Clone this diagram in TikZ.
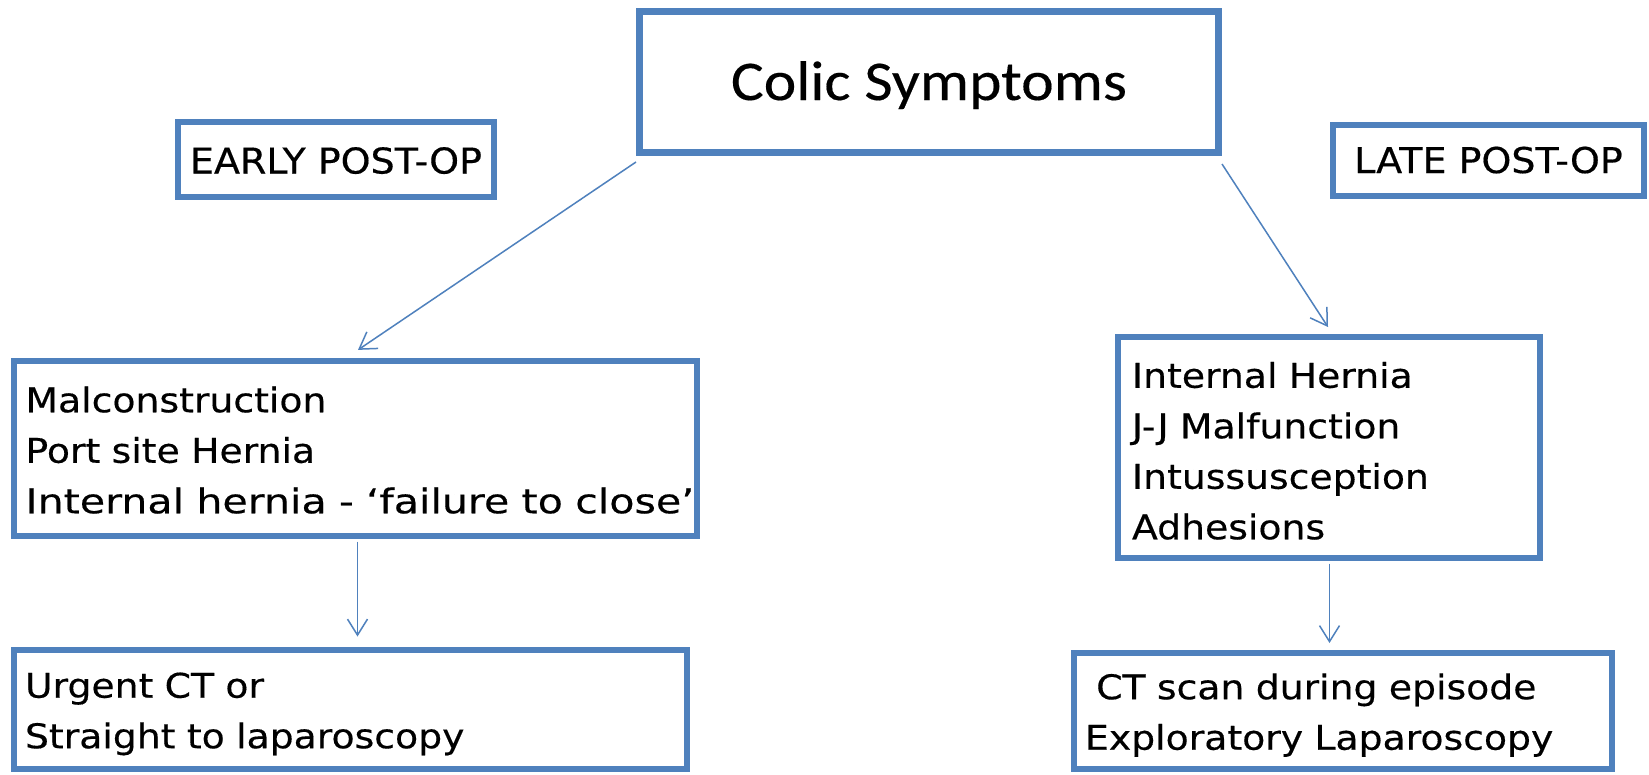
\documentclass[tikz,border=0pt]{standalone}
\usepackage{fontspec}
\usepackage{graphicx}
\usetikzlibrary{arrows.meta}
\setmainfont{DejaVu Sans}
\newfontfamily\bodyfont[FakeStretch=1.11,FakeBold=0.4]{DejaVu Sans}
\newfontfamily\labelfont[FakeStretch=1.07,FakeBold=0.4]{DejaVu Sans}
\newfontfamily\titlefont[FakeStretch=1.1,FakeBold=0.3]{Carlito}
\definecolor{boxblue}{HTML}{4F81BD}
\newcommand\firststrut[1]{\rule{0pt}{#1}}
\begin{document}
\begin{tikzpicture}[x=1pt,y=-1pt,
  box/.style={draw=boxblue, line width=6pt, fill=white, inner sep=0pt, align=left},
  bodybox/.style={box, font={\bodyfont\fontsize{34}{50.5}\selectfont}},
  labelbox/.style={box, font={\labelfont\fontsize{35.5}{40}\selectfont}},
  conn/.style={draw=boxblue, line width=1.5pt, -{Straight Barb[length=16pt,width=20pt]}}]
\path[fill=white] (0,0) rectangle (1649,774);
\useasboundingbox (0,0) rectangle (1649,774);

\node[box, line width=7pt, minimum width=579pt, minimum height=141pt,
      font={\titlefont\fontsize{56}{60}\selectfont}, text height=36pt, text depth=0pt]
  (top) at (929,82) {Colic Symptoms};

\node[labelbox, minimum width=316pt, minimum height=75pt, text height=28pt, text depth=0pt]
  (early) at (336,159.5) {EARLY POST-OP};
\node[labelbox, minimum width=311pt, minimum height=71pt, text height=25pt, text depth=0pt]
  (late) at (1488.5,160.5) {LATE POST-OP};

\node[bodybox, minimum width=683.5pt, minimum height=175pt, text width=659.5pt, inner xsep=12pt]
  (lm) at (355.25,448) {\mbox{\firststrut{30pt}Malconstruction}\\\mbox{Port site Hernia}\\\mbox{\scalebox{1.09}[1]{Internal hernia - ‘failure to close’}}};

\node[bodybox, minimum width=422pt, minimum height=220.5pt, text width=394pt, inner xsep=14pt]
  (rm) at (1329,447.25) {\mbox{\firststrut{33pt}Internal Hernia}\\\mbox{J-J Malfunction}\\\mbox{Intussusception}\\\mbox{Adhesions}};

\node[bodybox, minimum width=673.5pt, minimum height=119pt, text width=650.5pt, inner xsep=11.5pt]
  (lb) at (350.25,709.5) {\mbox{\firststrut{34pt}Urgent CT or}\\\mbox{Straight to laparoscopy}};

\node[bodybox, minimum width=538pt, minimum height=116pt, text width=516pt, inner xsep=11pt]
  (rb) at (1343,711) {\mbox{\firststrut{34pt}\hspace*{0.33em}CT scan during episode}\\\mbox{Exploratory Laparoscopy}};

\draw[conn] ([yshift=-6pt]top.south west) -- ([xshift=2.75pt,yshift=7.6pt]lm.north);
\draw[conn] ([yshift=-8pt]top.south east) -- ([xshift=-1pt,yshift=7pt]rm.north);
\draw[conn] ([xshift=2.25pt,yshift=-3pt]lm.south) -- ([xshift=7.25pt,yshift=10.5pt]lb.north);
\draw[conn] ([xshift=0.5pt,yshift=-3pt]rm.south) -- ([xshift=-13.5pt,yshift=7pt]rb.north);
\end{tikzpicture}
\end{document}
